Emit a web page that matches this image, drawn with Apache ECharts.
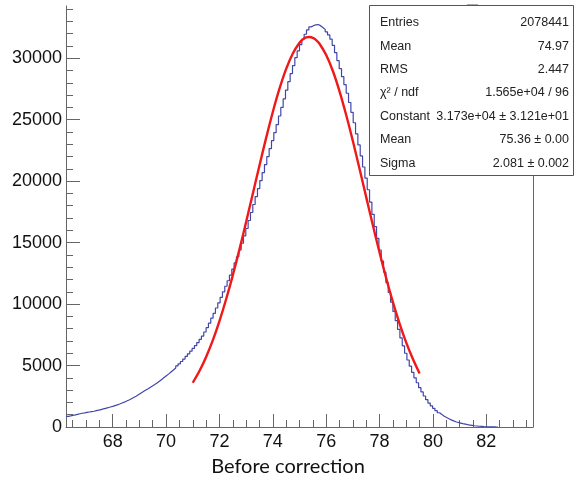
<!DOCTYPE html>
<html><head><meta charset="utf-8">
<script src="https://cdn.jsdelivr.net/npm/echarts@6/dist/echarts.min.js"></script>
<style>html,body{margin:0;padding:0;background:#fff}#c{width:574px;height:480px}</style>
</head><body><div id="c"></div>
<script>
// Histogram: 200 bins from 66.25 to 83.75 (bin width 0.0875); counts
const binStart = 66.25;
const binWidth = 0.0875;
const histCounts = [
 870,900,940,980,1030,1080,1120,1150,1190,1220,
 1250,1280,1330,1370,1420,1470,1520,1570,1630,1680,
 1740,1800,1870,1950,2020,2110,2200,2300,2400,2500,
 2620,2740,2860,2990,3100,3220,3330,3450,3580,3720,
 3870,4020,4170,4320,4480,4640,4800,4970,5140,5330,
 5530,5740,5950,6170,6390,6620,6870,7130,7400,7730,
 8080,8450,8850,9250,9680,10100,10550,11000,11450,11900,
 12350,12850,13350,13850,14400,14950,15550,16150,16800,17450,
 18100,18750,19400,20050,20700,21350,22000,22650,23300,23950,
 24600,25300,26000,26700,27400,28100,28750,29400,30050,30600,
 31100,31550,31950,32300,32550,32650,32720,32740,32650,32500,
 32350,32150,31900,31550,31050,30450,29800,29150,28500,27850,
 27150,26400,25600,24750,23850,22950,22050,21150,20250,19300,
 18300,17300,16300,15350,14400,13500,12600,11750,10950,10150,
 9400,8650,7950,7250,6600,6000,5450,4950,4450,4000,
 3600,3200,2850,2520,2220,1950,1720,1520,1330,1160,
 1010,880,770,670,580,500,430,370,320,270,
 230,190,160,130,100,80,60,45,30,20,
 12,8,5,3,2
];
// Red fit curve points (x, counts)
const fitX = [71,71.25,71.5,71.75,72,72.25,72.5,72.75,73,73.25,73.5,73.75,74,74.25,74.5,74.75,75,75.125,75.25,75.375,75.5,75.625,75.75,76,76.25,76.5,76.75,77,77.25,77.5,77.75,78,78.25,78.5,78.75,79,79.25,79.5];
const fitY = [3600,4550,5700,7050,8620,10390,12340,14450,16680,18980,21280,23520,25630,27520,29130,30390,31260,31530,31690,31730,31660,31480,31180,30260,28960,27310,25380,23260,21010,18700,16410,14190,12100,10160,8420,6870,5530,4350];
// Axis ticks
const xMajorTicks = [68,70,72,74,76,78,80,82];
const xMinorTicks = [66.5,67,67.5,68,68.5,69,69.5,70,70.5,71,71.5,72,72.5,73,73.5,74,74.5,75,75.5,76,76.5,77,77.5,78,78.5,79,79.5,80,80.5,81,81.5,82,82.5,83,83.5];
const yMajorTicks = [0,5000,10000,15000,20000,25000,30000];
const yMinorTicks = [1000,2000,3000,4000,6000,7000,8000,9000,11000,12000,13000,14000,16000,17000,18000,19000,21000,22000,23000,24000,26000,27000,28000,29000,31000,32000,33000,34000];
// Stats box text
const statNames = ['Entries','Mean','RMS','\u03c7\u00b2 / ndf','Constant','Mean','Sigma'];
const statValues = ['2078441','74.97','2.447','1.565e+04 / 96','3.173e+04 \u00b1 3.121e+01','75.36 \u00b1 0.00','2.081 \u00b1 0.002'];
const xTitle = 'Before correction';

const histData = histCounts.map((v,i)=>[binStart+i*binWidth, v]);
histData.push([binStart+histCounts.length*binWidth, histCounts[histCounts.length-1]]);
const fitData = fitX.map((x,i)=>[x, fitY[i]]);

const axisColor = '#666';
const lblFont = {fontFamily:'Liberation Sans', fontSize:18, color:'#111'};

const graphics = [];
const boxL=369, boxT=5, boxR=573, boxB=175;
graphics.push({type:'rect', z:100, shape:{x:boxL+0.5,y:boxT+0.5,width:boxR-boxL,height:boxB-boxT}, style:{fill:'#fff',stroke:'#555',lineWidth:1}});
graphics.push({type:'line', z:101, shape:{x1:467,y1:4.5,x2:478,y2:4.5}, style:{stroke:'#aaa',lineWidth:1}});
statNames.forEach((n,i)=>{
  const y = 22.7 + i*23.4;
  graphics.push({type:'text', z:101, style:{x:380,y:y,text:n,fill:'#222',fontFamily:'Liberation Sans',fontSize:12.5,textAlign:'left',textVerticalAlign:'middle'}});
  graphics.push({type:'text', z:101, style:{x:569,y:y,text:statValues[i],fill:'#222',fontFamily:'Liberation Sans',fontSize:12.5,textAlign:'right',textVerticalAlign:'middle'}});
});
graphics.push({type:'text', z:101, style:{x:288,y:467,text:xTitle,fill:'#111',fontFamily:'Lato',fontSize:20,textAlign:'center',textVerticalAlign:'middle'}});

const chart = echarts.init(document.getElementById('c'), null, {renderer:'canvas'});
chart.setOption({
  animation:false,
  backgroundColor:'#fff',
  textStyle:{fontFamily:'Liberation Sans'},
  grid:{left:66, right:41, top:6, bottom:53, containLabel:false},
  xAxis:[
    {type:'value', min:66.25, max:83.75, splitLine:{show:false},
     axisLine:{show:true, lineStyle:{color:axisColor,width:1}},
     axisTick:{show:true, inside:true, length:13, customValues:xMajorTicks, lineStyle:{color:axisColor}},
     axisLabel:{show:true, customValues:xMajorTicks, margin:6, formatter:v=>String(v), ...lblFont}},
    {type:'value', min:66.25, max:83.75, position:'bottom', splitLine:{show:false},
     axisLine:{show:false},
     axisTick:{show:true, inside:true, length:7, customValues:xMinorTicks, lineStyle:{color:axisColor}},
     axisLabel:{show:false}}
  ],
  yAxis:[
    {type:'value', min:0, max:34250, splitLine:{show:false},
     axisLine:{show:true, lineStyle:{color:axisColor,width:1}},
     axisTick:{show:true, inside:true, length:14, customValues:yMajorTicks, lineStyle:{color:axisColor}},
     axisLabel:{show:true, customValues:yMajorTicks, margin:4, formatter:v=>String(v), ...lblFont}},
    {type:'value', min:0, max:34250, position:'left', splitLine:{show:false},
     axisLine:{show:false},
     axisTick:{show:true, inside:true, length:7, customValues:yMinorTicks, lineStyle:{color:axisColor}},
     axisLabel:{show:false}},
    {type:'value', min:0, max:34250, position:'right', splitLine:{show:false},
     axisLine:{show:true, lineStyle:{color:axisColor,width:1}},
     axisTick:{show:false}, axisLabel:{show:false}}
  ],
  series:[
    {type:'line', xAxisIndex:0, yAxisIndex:0, data:histData, step:'end', symbol:'none',
     lineStyle:{color:'#4046a8', width:1.2}, z:3},
    {type:'line', xAxisIndex:0, yAxisIndex:0, data:fitData, smooth:0.3, symbol:'none',
     lineStyle:{color:'#f01818', width:2.4}, z:4}
  ],
  graphic:graphics
});
</script></body></html>
